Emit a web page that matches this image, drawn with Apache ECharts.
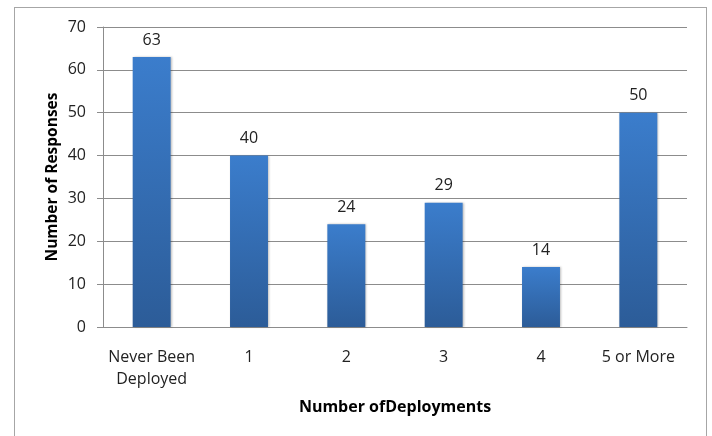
<!DOCTYPE html>
<html>
<head>
<meta charset="utf-8">
<script src="https://cdn.jsdelivr.net/npm/echarts@6/dist/echarts.min.js"></script>
<style>
  html, body { margin: 0; padding: 0; background: #fff; }
  #frame { position: absolute; left: 14px; top: 7px; width: 693px; height: 440px; border: 1px solid #a6a6a6; box-sizing: border-box; }
  #chart { width: 712px; height: 436px; position: absolute; left: 0; top: 0; }
</style>
</head>
<body>
<div id="frame"></div>
<div id="chart"></div>
<script>
const categories = ['Never Been\nDeployed', '1', '2', '3', '4', '5 or More'];
const responses = [63, 40, 24, 29, 14, 50];
const yTicks = { min: 0, max: 70, interval: 10 };

const font = '"Open Sans", "Liberation Sans", sans-serif';
const chart = echarts.init(document.getElementById('chart'), null, { renderer: 'canvas' });
chart.setOption({
  animation: false,
  grid: { left: 103, right: 25, top: 27, bottom: 109 },
  xAxis: {
    type: 'category',
    data: categories,
    name: 'Number ofDeployments',
    nameLocation: 'middle',
    nameGap: 72,
    nameMoveOverlap: false,
    nameTextStyle: { fontFamily: font, fontWeight: 'bold', fontSize: 16, color: '#000' },
    axisLine: { lineStyle: { color: '#8c8c8c' } },
    axisTick: { show: false },
    axisLabel: { interval: 0, fontFamily: font, fontSize: 16, color: '#222', margin: 19, lineHeight: 22 }
  },
  yAxis: {
    type: 'value',
    min: yTicks.min, max: yTicks.max, interval: yTicks.interval,
    name: 'Number of Responses',
    nameLocation: 'middle',
    nameGap: 42,
    nameMoveOverlap: false,
    nameTextStyle: { fontFamily: font, fontWeight: 'bold', fontSize: 15.5, color: '#000' },
    axisLine: { show: true, lineStyle: { color: '#8c8c8c' } },
    axisTick: { show: true, length: 6, lineStyle: { color: '#8c8c8c' } },
    axisLabel: { fontFamily: font, fontSize: 16, color: '#222', margin: 17 },
    splitLine: { lineStyle: { color: '#8c8c8c', width: 1 } }
  },
  series: [{
    type: 'bar',
    data: responses,
    barWidth: '39%',
    itemStyle: {
      color: new echarts.graphic.LinearGradient(0, 0, 0, 1, [
        { offset: 0, color: '#3b7dcc' },
        { offset: 1, color: '#2c5c98' }
      ]),
      shadowColor: 'rgba(0,0,0,0.25)',
      shadowBlur: 2,
      shadowOffsetX: 1
    },
    label: {
      show: true,
      position: 'top',
      distance: 9,
      fontFamily: font,
      fontSize: 16,
      color: '#222'
    }
  }]
});
</script>
</body>
</html>
